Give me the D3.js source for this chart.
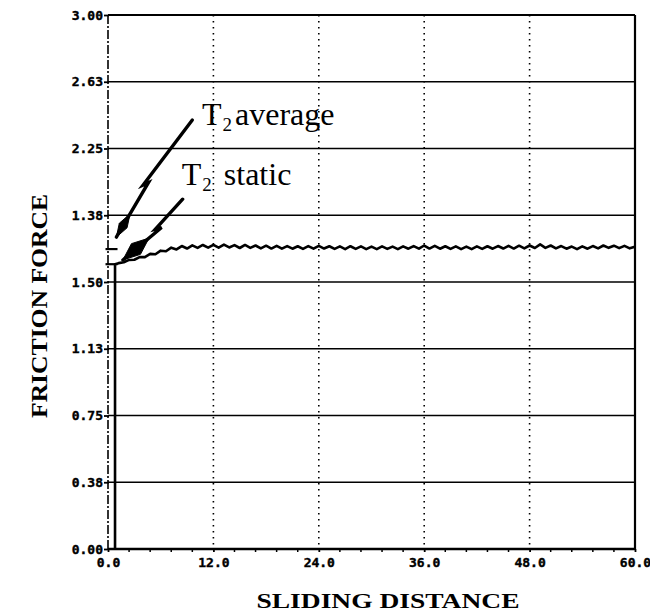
<!DOCTYPE html>
<html>
<head>
<meta charset="utf-8">
<script src="https://cdn.jsdelivr.net/npm/d3@7"></script>
<style>
  html, body { margin: 0; padding: 0; background: #fff; }
  svg { display: block; }
</style>
</head>
<body>
<svg id="chart" width="650" height="616"></svg>
<script>
// ---------------- data ----------------
const yTickValues = [0, 0.375, 0.75, 1.125, 1.5, 1.875, 2.25, 2.625, 3.0];
const yTickLabels = ["0.00", "0.38", "0.75", "1.13", "1.50", "1.38", "2.25", "2.63", "3.00"];
const xTickValues = [0, 12, 24, 36, 48, 60];
const xTickLabels = ["0.0", "12.0", "24.0", "36.0", "48.0", "60.0"];
const xMinorTicks = [2.4, 4.8, 7.2, 9.6, 14.4, 16.8, 19.2, 21.6, 26.4, 28.8, 31.2, 33.6, 38.4, 40.8, 43.2, 45.6, 50.4, 52.8, 55.2, 57.6];

const slidingDistance = [
  0.8, 0.8, 1.2, 1.8, 2.4, 3.0, 3.6, 4.2, 4.8, 5.4, 6.0, 6.6, 7.2, 7.8, 8.4, 9.0, 9.6, 10.2, 10.8, 11.4,
  12.0, 12.6, 13.2, 13.8, 14.4, 15.0, 15.6, 16.2, 16.8, 17.4, 18.0, 18.6, 19.2, 19.8, 20.4, 21.0, 21.6, 22.2, 22.8, 23.4,
  24.0, 24.6, 25.2, 25.8, 26.4, 27.0, 27.6, 28.2, 28.8, 29.4, 30.0, 30.6, 31.2, 31.8, 32.4, 33.0, 33.6, 34.2, 34.8, 35.4,
  36.0, 36.6, 37.2, 37.8, 38.4, 39.0, 39.6, 40.2, 40.8, 41.4, 42.0, 42.6, 43.2, 43.8, 44.4, 45.0, 45.6, 46.2, 46.8, 47.4,
  48.0, 48.6, 49.2, 49.8, 50.4, 51.0, 51.6, 52.2, 52.8, 53.4, 54.0, 54.6, 55.2, 55.8, 56.4, 57.0, 57.6, 58.2, 58.8, 59.4, 60.0
];
const frictionForce = [
  0.0, 1.600, 1.606, 1.611, 1.624, 1.625, 1.640, 1.640, 1.658, 1.656, 1.676, 1.673, 1.693, 1.683, 1.702, 1.688, 1.706, 1.692, 1.708, 1.693,
  1.709, 1.693, 1.710, 1.694, 1.707, 1.691, 1.708, 1.692, 1.705, 1.689, 1.704, 1.688, 1.703, 1.687, 1.702, 1.687, 1.701, 1.686, 1.702, 1.687,
  1.703, 1.688, 1.701, 1.686, 1.700, 1.685, 1.701, 1.686, 1.700, 1.685, 1.699, 1.685, 1.700, 1.686, 1.699, 1.685, 1.700, 1.687, 1.702, 1.687,
  1.705, 1.688, 1.703, 1.687, 1.701, 1.686, 1.700, 1.685, 1.699, 1.685, 1.700, 1.686, 1.701, 1.687, 1.702, 1.688, 1.703, 1.688, 1.704, 1.689,
  1.705, 1.691, 1.711, 1.692, 1.705, 1.689, 1.702, 1.687, 1.699, 1.685, 1.700, 1.687, 1.702, 1.689, 1.705, 1.692, 1.704, 1.690, 1.703, 1.689, 1.698
];

// short reference marks at the left edge (distance, force)
const markerDistance = [0.4, 0.4];
const markerForce = [1.685, 1.60];

// annotations: labels + zig-zag arrows (in data units)
const annotationLabels = [
  { main: "T", sub: "2", rest: "average", x: 10.7, y: 2.382, gap: 3 },
  { main: "T", sub: "2", rest: "static", x: 8.4, y: 2.045, gap: 12 }
];
const arrowPaths = [
  { pts: [[9.6, 2.41], [4.0, 2.045], [4.6, 2.058], [0.95, 1.752]], headLen: 27, headW: 4.5 },
  { pts: [[8.5, 1.965], [5.4, 1.797], [6.1, 1.806], [1.70, 1.624]], headLen: 34, headW: 7 }
];

// ---------------- drawing ----------------
const svg = d3.select("#chart");
const x = d3.scaleLinear().domain([0, 60]).range([108, 635]);
const y = d3.scaleLinear().domain([0, 3]).range([549, 15]);

const monoFont = "'DejaVu Sans Mono', monospace";
const serifFont = "'Liberation Serif', 'Times New Roman', serif";

// vertical dotted grid
svg.append("g").selectAll("line")
  .data(xTickValues.filter(d => d > 0 && d < 60))
  .join("line")
  .attr("x1", d => x(d)).attr("x2", d => x(d))
  .attr("y1", y(3)).attr("y2", y(0))
  .attr("stroke", "#000").attr("stroke-width", 1.6)
  .attr("stroke-dasharray", "1.6,4.4");

// horizontal grid
svg.append("g").selectAll("line")
  .data(yTickValues.filter(d => d > 0 && d < 3))
  .join("line")
  .attr("x1", x(0)).attr("x2", x(60))
  .attr("y1", d => y(d)).attr("y2", d => y(d))
  .attr("stroke", "#000").attr("stroke-width", 1.7);

// frame: top, right, bottom solid; left dashed
const frame = svg.append("g").attr("stroke", "#000").attr("fill", "none");
frame.append("line").attr("x1", x(0)).attr("x2", x(60)).attr("y1", y(3)).attr("y2", y(3)).attr("stroke-width", 2.2);
frame.append("line").attr("x1", x(60)).attr("x2", x(60)).attr("y1", y(3)).attr("y2", y(0)).attr("stroke-width", 2.2);
frame.append("line").attr("x1", x(0)).attr("x2", x(60)).attr("y1", y(0)).attr("y2", y(0)).attr("stroke-width", 2.4);
frame.append("line").attr("x1", x(0)).attr("x2", x(0)).attr("y1", y(3)).attr("y2", y(0))
  .attr("stroke-width", 1.6).attr("stroke-dasharray", "9,2,2,2");

// y axis via d3 axis
const yAxis = d3.axisLeft(y).tickValues(yTickValues)
  .tickFormat((d, i) => yTickLabels[i]).tickSize(5).tickPadding(1);
const gy = svg.append("g").attr("transform", `translate(${x(0) + 1},0)`).call(yAxis);
gy.select(".domain").remove();
gy.selectAll(".tick line").attr("stroke", "#000").attr("stroke-width", 1.8);
gy.selectAll(".tick text").attr("fill", "#000").attr("stroke", "#000").attr("stroke-width", 0.4)
  .style("font-family", monoFont).style("font-weight", "bold").style("font-size", "13px");

// x axis via d3 axis
const xAxis = d3.axisBottom(x).tickValues(xTickValues)
  .tickFormat((d, i) => xTickLabels[i]).tickSize(3).tickPadding(6);
const gx = svg.append("g").attr("transform", `translate(0,${y(0)})`).call(xAxis);
gx.select(".domain").remove();
gx.selectAll(".tick line").attr("stroke", "#000").attr("stroke-width", 1.8);
gx.selectAll(".tick text").attr("fill", "#000").attr("stroke", "#000").attr("stroke-width", 0.4)
  .style("font-family", monoFont).style("font-weight", "bold").style("font-size", "13px");

// x minor ticks
svg.append("g").selectAll("line").data(xMinorTicks).join("line")
  .attr("x1", d => x(d)).attr("x2", d => x(d))
  .attr("y1", y(0) - 1).attr("y2", y(0) + 3)
  .attr("stroke", "#000").attr("stroke-width", 1.5);

// data curve
const pts = slidingDistance.map((d, i) => [d, frictionForce[i]]);
svg.append("path")
  .datum(pts)
  .attr("fill", "none").attr("stroke", "#000").attr("stroke-width", 2.6)
  .attr("stroke-linejoin", "round")
  .attr("d", d3.line().x(d => x(d[0])).y(d => y(d[1])));

// left-edge markers
svg.append("g").selectAll("line").data(markerForce).join("line")
  .attr("x1", (d, i) => x(markerDistance[i]) - 6).attr("x2", (d, i) => x(markerDistance[i]) + 6)
  .attr("y1", d => y(d)).attr("y2", d => y(d))
  .attr("stroke", "#000").attr("stroke-width", 2.2);

// arrows
arrowPaths.forEach(a => {
  const p = a.pts.map(d => [x(d[0]), y(d[1])]);
  const tip = p[p.length - 1];
  const prev = p[p.length - 2];
  const dx = tip[0] - prev[0], dy = tip[1] - prev[1];
  const len = Math.hypot(dx, dy);
  const ux = dx / len, uy = dy / len;
  const nx = -uy, ny = ux;
  svg.append("path")
    .attr("d", d3.line()(p))
    .attr("fill", "none").attr("stroke", "#000").attr("stroke-width", 3.4)
    .attr("stroke-linejoin", "miter").attr("stroke-linecap", "round");
  const base = [tip[0] - ux * a.headLen, tip[1] - uy * a.headLen];
  const mid = [tip[0] - ux * a.headLen * 0.5, tip[1] - uy * a.headLen * 0.5];
  const head = [
    base,
    [mid[0] + nx * a.headW, mid[1] + ny * a.headW],
    tip,
    [mid[0] - nx * a.headW, mid[1] - ny * a.headW]
  ];
  svg.append("path").attr("d", d3.line()(head) + "Z").attr("fill", "#000").attr("stroke", "#000").attr("stroke-width", 1);
});

// annotation labels
annotationLabels.forEach(l => {
  const t = svg.append("text")
    .attr("x", x(l.x)).attr("y", y(l.y))
    .style("font-family", serifFont).style("font-size", "32px").attr("fill", "#000");
  t.append("tspan").text(l.main);
  t.append("tspan").text(l.sub).style("font-size", "19px").attr("dy", 6).attr("dx", 1);
  t.append("tspan").text(l.rest).attr("dy", -6).attr("dx", l.gap);
});

// axis titles
svg.append("text")
  .attr("transform", `translate(47,306) rotate(-90)`)
  .attr("text-anchor", "middle")
  .attr("textLength", 224).attr("lengthAdjust", "spacingAndGlyphs")
  .style("font-family", serifFont).style("font-weight", "bold").style("font-size", "23px")
  .text("FRICTION FORCE");

svg.append("text")
  .attr("x", 388).attr("y", 608)
  .attr("text-anchor", "middle")
  .attr("textLength", 263).attr("lengthAdjust", "spacingAndGlyphs")
  .style("font-family", serifFont).style("font-weight", "bold").style("font-size", "22px")
  .text("SLIDING DISTANCE");
</script>
</body>
</html>
